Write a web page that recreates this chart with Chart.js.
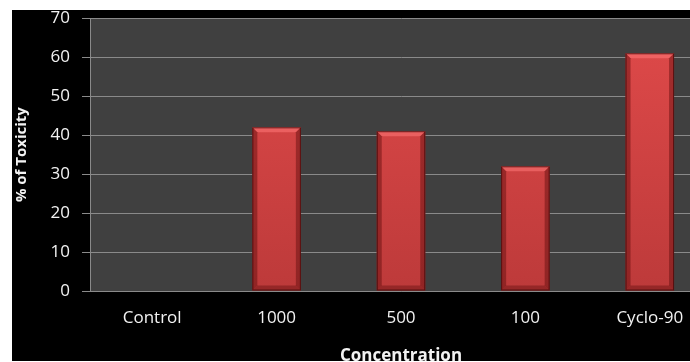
<!DOCTYPE html>
<html>
<head>
<meta charset="utf-8">
<script src="https://cdn.jsdelivr.net/npm/chart.js@4.4.0/dist/chart.umd.min.js"></script>
<style>
    html, body { margin: 0; padding: 0; background: #ffffff; overflow: hidden; }
    #frame { position: absolute; left: 12px; top: 10px; width: 678px; height: 351px; overflow: hidden; background: #000000; }
    #box { position: absolute; left: 0; top: -14px; width: 705px; height: 374px; }
</style>
</head>
<body>
<div id="frame"><div id="box"><canvas id="toxChart"></canvas></div></div>
<script>
// chart data
const categories = ['Control', '1000', '500', '100', 'Cyclo-90'];
const toxicity = [0, 42, 41, 32, 61];
const yTicks = [0, 10, 20, 30, 40, 50, 60, 70];

const labelFont = { family: 'Open Sans', size: 17 };
const titleFont = { family: 'Open Sans', size: 15, weight: 'bold' };

// dark grey plot area like the old Excel chart
const plotBg = {
    id: 'plotBg',
    beforeDraw(chart) {
        const a = chart.chartArea;
        const ctx = chart.ctx;
        ctx.save();
        ctx.fillStyle = '#404040';
        ctx.fillRect(a.left, a.top, a.right - a.left, a.bottom - a.top);
        ctx.restore();
    }
};

// bevel edges on the bars
const bevel = {
    id: 'bevel',
    afterDatasetsDraw(chart) {
        const ctx = chart.ctx;
        chart.getDatasetMeta(0).data.forEach(bar => {
            const h = bar.base - bar.y;
            if (h <= 1) return;
            const l = bar.x - bar.width / 2, r = bar.x + bar.width / 2;
            const t = bar.y, b = bar.base, e = 5;
            ctx.save();
            // top bevel
            ctx.fillStyle = 'rgba(255,120,120,0.55)';
            ctx.beginPath();
            ctx.moveTo(l, t); ctx.lineTo(r, t); ctx.lineTo(r - e, t + e); ctx.lineTo(l + e, t + e);
            ctx.closePath(); ctx.fill();
            // left / right darker edges
            ctx.fillStyle = 'rgba(90,10,10,0.45)';
            ctx.beginPath();
            ctx.moveTo(l, t); ctx.lineTo(l + e, t + e); ctx.lineTo(l + e, b - e); ctx.lineTo(l, b);
            ctx.closePath(); ctx.fill();
            ctx.beginPath();
            ctx.moveTo(r, t); ctx.lineTo(r - e, t + e); ctx.lineTo(r - e, b - e); ctx.lineTo(r, b);
            ctx.closePath(); ctx.fill();
            // bottom edge
            ctx.fillStyle = 'rgba(110,20,20,0.5)';
            ctx.beginPath();
            ctx.moveTo(l, b); ctx.lineTo(l + e, b - e); ctx.lineTo(r - e, b - e); ctx.lineTo(r, b);
            ctx.closePath(); ctx.fill();
            ctx.strokeStyle = 'rgba(70,10,10,0.8)';
            ctx.lineWidth = 1;
            ctx.strokeRect(l + 0.5, t + 0.5, r - l - 1, b - t - 1);
            ctx.restore();
        });
    }
};

function barFill(context) {
    const chart = context.chart;
    const a = chart.chartArea;
    if (!a) return '#d04444';
    const g = chart.ctx.createLinearGradient(0, a.top, 0, a.bottom);
    g.addColorStop(0, '#e04a4a');
    g.addColorStop(1, '#bd3a3a');
    return g;
}

new Chart(document.getElementById('toxChart'), {
    type: 'bar',
    data: {
        labels: categories,
        datasets: [{
            label: '% of Toxicity',
            data: toxicity,
            backgroundColor: barFill,
            borderWidth: 0,
            categoryPercentage: 1,
            barPercentage: 0.39
        }]
    },
    options: {
        responsive: true,
        maintainAspectRatio: false,
        animation: false,
        layout: { padding: { top: 0, right: 5, left: 0, bottom: 0 } },
        plugins: { legend: { display: false }, tooltip: { enabled: false } },
        scales: {
            x: {
                grid: { display: false, drawTicks: false },
                border: { display: true, color: '#8a8a8a', width: 1 },
                ticks: { color: '#f2f2f2', font: labelFont, padding: 17 },
                title: { display: true, text: 'Concentration', color: '#f2f2f2', font: { family: 'Open Sans', size: 17, weight: 'bold' }, padding: { top: 0, bottom: 4 } },
                afterFit(scale) { scale.height = 79; }
            },
            y: {
                min: 0,
                max: 70,
                afterBuildTicks(scale) { scale.ticks = yTicks.map(v => ({ value: v })); },
                grid: { color: '#8a8a8a', lineWidth: 1, tickLength: 8, drawTicks: true },
                border: { display: true, color: '#8a8a8a', width: 1 },
                ticks: { color: '#f2f2f2', font: labelFont, padding: 12 },
                title: { display: true, text: '% of Toxicity', color: '#f2f2f2', font: titleFont, padding: { top: 1, bottom: 0 } },
                afterFit(scale) { scale.width = 78; }
            }
        }
    },
    plugins: [plotBg, bevel]
});
</script>
</body>
</html>
